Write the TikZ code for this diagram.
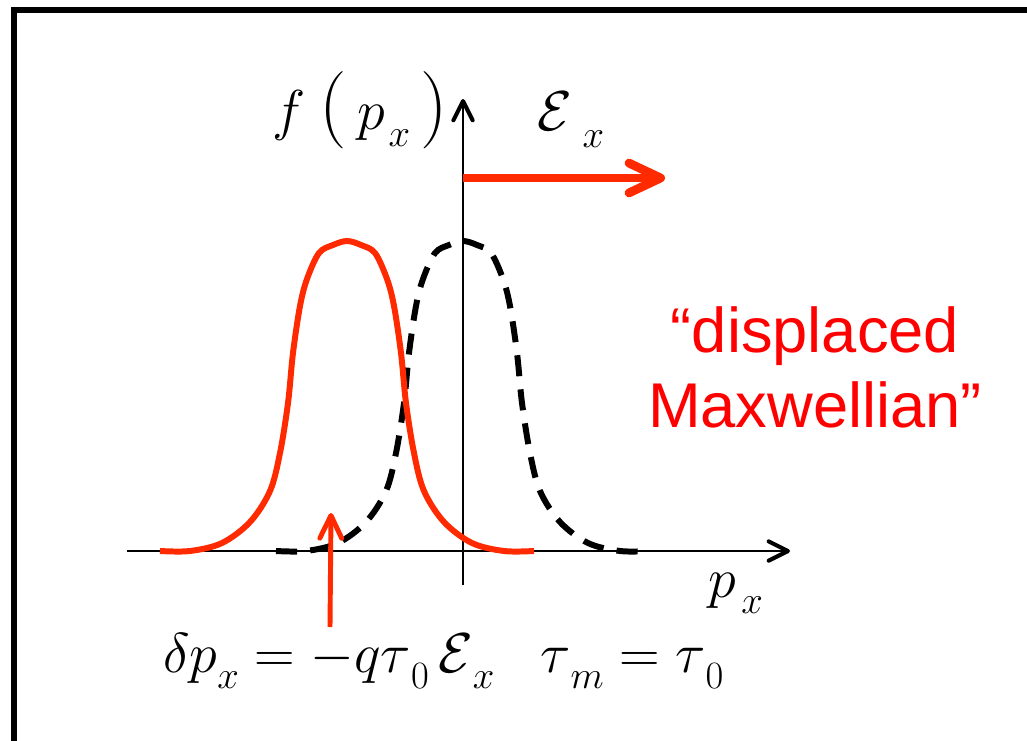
\RequirePackage{fix-cm}
\documentclass[tikz,border=0pt]{standalone}
\usepackage{fontspec}
\usepackage{tikz}
\usetikzlibrary{arrows.meta, positioning}
\newfontfamily\arl{Liberation Sans}
\definecolor{RedLine}{HTML}{FF2A00}
\definecolor{RedText}{HTML}{FF0000}
\definecolor{TxtPri}{HTML}{000000}
% lowered index, MathType style
\newcommand\lo[1]{\raisebox{-0.3em}{\fontsize{22}{22}\selectfont$#1$}}
\newcommand\bigpar[1]{{\fontsize{44}{44}\selectfont #1}}

\begin{document}
\begin{tikzpicture}[x=0.02cm, y=-0.02cm,
    axis/.style={line width=1.2pt, draw=TxtPri,
      -{Straight Barb[length=11pt, width=11pt, line width=2.3pt, round]}},
    redcurve/.style={line width=3.4pt, draw=RedLine},
    maxcurve/.style={line width=3.4pt, draw=TxtPri, dash pattern=on 12pt off 7.5pt},
    bell/.pic={\draw[pic actions] plot[smooth, tension=0.55] coordinates {
      (-187,0) (-157,0) (-125,-8) (-97,-29) (-77,-60) (-67,-98) (-59,-148)
      (-54,-198) (-47,-245) (-40,-272) (-28,-298) (-14,-306) (0,-310)
      (14,-306) (28,-298) (40,-272) (47,-245) (54,-198) (59,-148) (67,-98)
      (77,-60) (97,-29) (125,-8) (157,0) (187,0)};},
    txt/.style={inner sep=0pt, text=TxtPri, font=\fontsize{32}{38}\selectfont}]

  \useasboundingbox (0,0) rectangle (1027,740);
  \clip (0,0) rectangle (1027,740);
  \draw[line width=3.1pt] (14,10) rectangle (1060,760);

  % axes
  \coordinate (origin) at (463,551);
  \coordinate (xstart) at (127,551);
  \coordinate (xend) at (790,551);
  \coordinate (ystart) at (463,585);
  \coordinate (yend) at (463,99);
  \draw[axis] (xstart) -- (xend);
  \draw[axis] (ystart) -- (yend);

  % equilibrium and displaced distributions
  \pic[maxcurve] at (origin) {bell};
  \pic[redcurve] at (347,551) {bell};

  % field arrow
  \coordinate (fieldtail) at (463,178);
  \coordinate (fieldhead) at (665,178);
  \draw[line width=5pt, draw=RedLine,
        -{Straight Barb[length=18pt, width=17pt, round]}] (fieldtail) -- (fieldhead);

  % shift arrow
  \coordinate (shifttail) at (330,627);
  \coordinate (shifthead) at (331,513);
  \draw[line width=2.8pt, draw=RedLine,
        -{Straight Barb[length=13pt, width=12.5pt, round]}] (shifttail) -- (shifthead);

  % labels
  \node[txt, anchor=base west] (flabel) at (272,130)
    {$f$\hspace{8pt}\bigpar{(}\hspace{6pt}$p$\hspace{2pt}\lo{x}\hspace{6pt}\bigpar{)}};
  \node[txt, anchor=base west] (Elabel) at (537,131)
    {$\mathcal{E}$\hspace{6pt}\lo{x}};
  \node[txt, anchor=base west] (pxlabel) at (708,597)
    {$p$\hspace{3pt}\lo{x}};
  \node[txt, anchor=base west] (shiftlabel) at (163,672)
    {$\delta p\lo{x} = -q\tau\lo{0}\,\mathcal{E}\lo{x}$};
  \node[txt, anchor=base west] (taulabel) at (540,672)
    {$\tau\lo{m} = \tau\lo{0}$};
  \node[anchor=base, align=center, inner sep=0pt, text=RedText,
        font=\arl\fontsize{36}{42.5}\selectfont] (maxlabel) at (815,427)
    {“displaced\\Maxwellian”};
\end{tikzpicture}
\end{document}
